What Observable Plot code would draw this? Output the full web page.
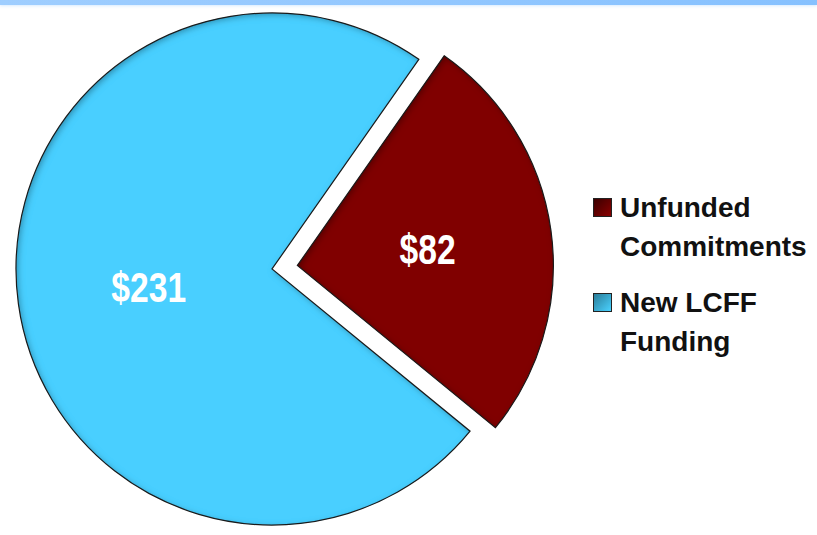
<!DOCTYPE html>
<html>
<head>
<meta charset="utf-8">
<script src="https://cdn.jsdelivr.net/npm/d3@7"></script>
<script src="https://cdn.jsdelivr.net/npm/@observablehq/plot@0.6"></script>
<style>
  html, body { margin: 0; padding: 0; background: #fff; }
  #wrap { position: relative; width: 817px; height: 535px; overflow: hidden; }
  #band { position: absolute; left: 0; top: 0; width: 817px; height: 5px;
          background: linear-gradient(to right, #9fceff, #86c1ff);
          box-shadow: 0 1px 3px rgba(140,195,255,0.35); }
  #legend { position: absolute; left: 593px; top: 188px;
            font-family: "Liberation Sans", Arial, sans-serif; font-weight: bold;
            font-size: 28px; line-height: 39px; color: #111; }
  .entry { display: flex; align-items: flex-start; margin-bottom: 17px; }
  .sw { width: 17px; height: 17px; margin-top: 10px; margin-right: 8px; border: 1px solid #222; flex: none; }
</style>
</head>
<body>
<div id="wrap">
  <div id="chart"></div>
  <div id="band"></div>
  <div id="legend"></div>
</div>
<script>
// ---- data ----
const categories = ["Unfunded Commitments", "New LCFF Funding"];
const legendLines = [["Unfunded", "Commitments"], ["New LCFF", "Funding"]];
const values = [82, 231];
const valueLabels = ["$82", "$231"];
const colors = ["#800000", "#48cfff"];
const swatchGradients = ["linear-gradient(135deg, #3a0000, #8a0000)", "linear-gradient(135deg, #2a7d99, #4ad2ff)"];
const explode = [0.1, 0];
const startDeg = 35;

// ---- pie layout (unit radius, y up) ----
const arcs = d3.pie().sort(null).value(d => d)
  .startAngle(startDeg * Math.PI / 180)
  .endAngle(startDeg * Math.PI / 180 + 2 * Math.PI)(values);

const slices = arcs.map((a, i) => {
  const mid = (a.startAngle + a.endAngle) / 2;
  const ox = explode[i] * Math.sin(mid), oy = explode[i] * Math.cos(mid);
  return {
    category: categories[i], value: values[i], label: valueLabels[i], color: colors[i],
    startAngle: a.startAngle, endAngle: a.endAngle, ox, oy,
    cx: ox + 0.5 * Math.sin(mid), cy: oy + 0.5 * Math.cos(mid)
  };
});

function pieMark(index, scales, channels, dimensions, context) {
  const x0 = scales.x(0), y0 = scales.y(0);
  const r = scales.x(1) - scales.x(0);
  const g = d3.create("svg:g");
  const defs = g.append("defs");
  const f = defs.append("filter").attr("id", "innerShadow")
    .attr("x", "-10%").attr("y", "-10%").attr("width", "120%").attr("height", "120%");
  f.append("feComponentTransfer").attr("in", "SourceAlpha").attr("result", "inv")
    .append("feFuncA").attr("type", "table").attr("tableValues", "1 0");
  f.append("feGaussianBlur").attr("in", "inv").attr("stdDeviation", 3).attr("result", "blur");
  f.append("feOffset").attr("in", "blur").attr("dx", 1.5).attr("dy", 1.5).attr("result", "off");
  f.append("feFlood").attr("flood-color", "#000").attr("flood-opacity", 0.6).attr("result", "col");
  f.append("feComposite").attr("in", "col").attr("in2", "off").attr("operator", "in").attr("result", "sh");
  f.append("feComposite").attr("in", "sh").attr("in2", "SourceAlpha").attr("operator", "in").attr("result", "ish");
  const m = f.append("feMerge");
  m.append("feMergeNode").attr("in", "SourceGraphic");
  m.append("feMergeNode").attr("in", "ish");

  const arc = d3.arc().innerRadius(0).outerRadius(r);
  for (const s of slices) {
    const t = `translate(${x0 + s.ox * r},${y0 - s.oy * r})`;
    const d = arc({startAngle: s.startAngle, endAngle: s.endAngle});
    g.append("path").attr("transform", t).attr("d", d)
      .attr("fill", s.color).attr("filter", "url(#innerShadow)");
    g.append("path").attr("transform", t).attr("d", d)
      .attr("fill", "none").attr("stroke", "#1a1a1a").attr("stroke-width", 1.2);
  }
  return g.node();
}

const chart = Plot.plot({
  width: 817,
  height: 535,
  margin: 0,
  style: { background: "transparent", overflow: "visible" },
  x: { domain: [-1, 1], range: [16, 528], axis: null },
  y: { domain: [-1, 1], range: [525, 13], axis: null },
  marks: [
    pieMark,
    Plot.text(slices, {
      x: "cx", y: "cy", text: "label", fill: "white",
      fontSize: 42, fontWeight: "bold",
      fontFamily: "'Liberation Sans Narrow', 'Arial Narrow', 'Liberation Sans', sans-serif",
      dx: 3, dy: 2, className: "pielabel"
    })
  ]
});
document.getElementById("chart").appendChild(chart);

// condense labels to mimic Arial Narrow Bold
d3.select(chart).selectAll(".pielabel text").each(function () {
  const w = this.getComputedTextLength();
  this.setAttribute("textLength", (w * 0.8).toFixed(1));
  this.setAttribute("lengthAdjust", "spacingAndGlyphs");
});

// ---- legend ----
const legend = d3.select("#legend");
categories.forEach((c, i) => {
  const e = legend.append("div").attr("class", "entry");
  e.append("div").attr("class", "sw").style("background", swatchGradients[i]);
  e.append("div").html(legendLines[i].join("<br>"));
});
</script>
</body>
</html>
